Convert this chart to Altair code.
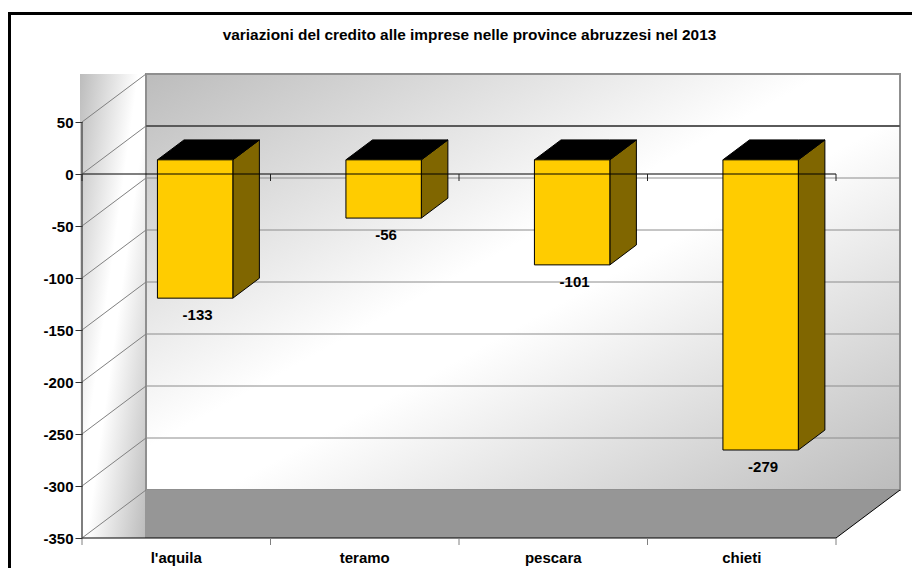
import altair as alt
import pandas as pd

categories = ["l'aquila", "teramo", "pescara", "chieti"]
values = [-133, -56, -101, -279]
y_ticks = [50, 0, -50, -100, -150, -200, -250, -300, -350]
title_text = "variazioni del credito alle imprese nelle province abruzzesi nel 2013"

W, H = 904, 560
PX_PER_CAT = 188.5
PX_PER_UNIT = 52 / 50
X_DOM = [(8 - 82) / PX_PER_CAT, (912 - 82) / PX_PER_CAT]
Y_DOM = [(174 - 568) / PX_PER_UNIT, (174 - 8) / PX_PER_UNIT]
xs = alt.Scale(domain=X_DOM, range=[0, W], nice=False, zero=False)
ys = alt.Scale(domain=Y_DOM, range=[H, 0], nice=False, zero=False)
VMAX, VMIN = 50, -350
N = len(categories)

y_axis = alt.Axis(
    values=y_ticks, orient="left", offset=-74, domain=False, grid=False, title=None,
    tickSize=7, tickColor="#333333", tickWidth=1,
    labelFont="Liberation Sans", labelFontWeight="bold", labelFontSize=15,
    labelColor="#000000", labelPadding=2, zindex=1,
    labelExpr="'' + datum.value",
)
X_ENC = alt.X("x:Q", scale=xs, axis=None)
Y_ENC = alt.Y("y:Q", scale=ys, axis=y_axis)


def proj(c, v, d):
    """category position, value, depth (0 front .. 1 back) -> oblique data coords"""
    return c + d * 64 / PX_PER_CAT, v + d * 48 / PX_PER_UNIT


def area_shape(rows, **mark):
    return alt.Chart(pd.DataFrame(rows)).mark_area(orient="vertical", **mark).encode(
        x=X_ENC, y=Y_ENC, y2="y2:Q", detail="g:N",
    )


def rule_shape(rows, **mark):
    return alt.Chart(pd.DataFrame(rows)).mark_rule(**mark).encode(
        x=X_ENC, x2="x2:Q", y=Y_ENC, y2="y2:Q",
    )


def rect_shape(rows, **mark):
    return alt.Chart(pd.DataFrame(rows)).mark_rect(**mark).encode(
        x=X_ENC, x2="x2:Q", y=Y_ENC, y2="y2:Q",
    )


def seg(p, q):
    return {"x": p[0], "y": p[1], "x2": q[0], "y2": q[1]}


def para(g, c0, c1, v, d0, d1):
    """horizontal parallelogram between c0..c1 at value v from depth d0 to d1"""
    a0 = proj(c0, v, d0)
    a1 = proj(c1, v, d0)
    b0 = proj(c0, v, d1)
    b1 = proj(c1, v, d1)
    return [
        {"g": g, "x": a0[0], "y": a0[1], "y2": a0[1]},
        {"g": g, "x": b0[0], "y": a0[1], "y2": b0[1]},
        {"g": g, "x": a1[0], "y": a1[1], "y2": b1[1]},
        {"g": g, "x": b1[0], "y": b1[1], "y2": b1[1]},
    ]


def grad(stops, x1, y1, x2, y2):
    return alt.Gradient(
        gradient="linear",
        stops=[alt.GradientStop(color=c, offset=o) for o, c in stops],
        x1=x1, y1=y1, x2=x2, y2=y2,
    )


WALL_STOPS = [(0, "#bcbcbc"), (0.45, "#ffffff"), (0.55, "#ffffff"), (1, "#bcbcbc")]

layers = []

# back wall
bw0 = proj(0, VMAX, 1)
bw1 = proj(N, VMIN, 1)
layers.append(rect_shape(
    [{"x": bw0[0], "x2": bw1[0], "y": bw0[1], "y2": bw1[1]}],
    color=grad(WALL_STOPS, 0, 0, 1, 1), stroke="#8f8f8f", strokeWidth=2,
))

# floor
layers.append(area_shape(para("floor", 0, N, VMIN, 0, 1), color="#969696"))

# side wall, over the floor's left wedge
sw = [{"x": -2 / PX_PER_CAT, "x2": bw0[0] - 1 / PX_PER_CAT, "y": bw0[1], "y2": VMIN}]
layers.append(rect_shape(sw, color=grad(WALL_STOPS, 0, 0, 1, 1)))

# gridlines on back wall + side wall
grid_back = [seg(proj(0, v, 1), proj(N, v, 1)) for v in y_ticks if v not in (0, VMAX, VMIN)]
layers.append(rule_shape(grid_back, color="#8c8c8c", strokeWidth=1))
layers.append(rule_shape([seg(proj(0, 0, 1), proj(N, 0, 1))], color="#5a5a5a", strokeWidth=2))
grid_side = [seg(proj(0, v, 0), proj(0, v, 1)) for v in y_ticks]
layers.append(rule_shape(grid_side, color="#808080", strokeWidth=1))
layers.append(rule_shape([seg(proj(N, VMIN, 0), proj(N, VMIN, 1))], color="#000000", strokeWidth=1))

# bars
D0, D1 = 0.295, 0.71
BW = 0.4
front, side, top = [], [], []
for i, v in enumerate(values):
    c0 = i + 0.5 - BW / 2
    c1 = i + 0.5 + BW / 2
    f0 = proj(c0, 0, D0)
    f1 = proj(c1, v, D0)
    b1 = proj(c1, v, D1)
    t1 = proj(c1, 0, D1)
    front.append({"x": f0[0], "x2": f1[0], "y": f0[1], "y2": f1[1]})
    side += [
        {"g": i, "x": f1[0], "y": f0[1], "y2": f1[1]},
        {"g": i, "x": b1[0], "y": t1[1], "y2": b1[1]},
    ]
    top += para(i, c0, c1, 0, D0, D1)
layers.append(area_shape(side, color="#806600", stroke="#000000", strokeWidth=1))
layers.append(area_shape(top, color="#000000", stroke="#000000", strokeWidth=1))
layers.append(rect_shape(front, color="#ffcc00", stroke="#000000", strokeWidth=1))

# value labels
bar_labels = pd.DataFrame({
    "x": [proj(i + 0.5, 0, D0)[0] for i in range(N)],
    "y": [proj(0, v, D0)[1] for v in values],
    "t": [str(v) for v in values],
})
layers.append(
    alt.Chart(bar_labels)
    .mark_text(font="Liberation Sans", fontWeight="bold", fontSize=15, color="#000000",
               baseline="middle", dx=2.5, dy=17)
    .encode(x=X_ENC, y=Y_ENC, text="t:N")
)

# front axes lines and ticks
layers.append(rule_shape([seg((0, 0), (N, 0))], color="#000000", strokeWidth=1.2))
layers.append(rule_shape([seg((0, VMIN), (N, VMIN))], color="#000000", strokeWidth=1))
layers.append(rule_shape([seg((0, VMAX), (0, VMIN))], color="#555555", strokeWidth=1.5))
tick_len = 7 / PX_PER_UNIT
layers.append(rule_shape([seg((i, 0), (i, -tick_len)) for i in range(N + 1)], color="#222222", strokeWidth=1))
layers.append(rule_shape([seg((i, VMIN), (i, VMIN - tick_len)) for i in range(N + 1)], color="#808080", strokeWidth=1))

# category labels
layers.append(
    alt.Chart(pd.DataFrame({"x": [i + 0.5 for i in range(N)], "t": categories,
                            "y": [(174 - 558) / PX_PER_UNIT] * N}))
    .mark_text(font="Liberation Sans", fontWeight="bold", fontSize=15, color="#000000", baseline="middle")
    .encode(x=X_ENC, y=Y_ENC, text="t:N")
)

# title
layers.append(
    alt.Chart(pd.DataFrame({"t": [title_text]}))
    .mark_text(font="Liberation Sans", fontWeight="bold", fontSize=15.4, color="#000000", baseline="middle")
    .encode(x=alt.value(461.5), y=alt.value(27), text="t:N")
)

# outer frame
frame = alt.Chart(pd.DataFrame({"a": [0]}))
layers.append(frame.mark_rule(color="#000000", strokeWidth=3).encode(
    x=alt.value(1.5), x2=alt.value(1.5), y=alt.value(5.5), y2=alt.value(H)))
layers.append(frame.mark_rule(color="#000000", strokeWidth=3).encode(
    x=alt.value(0), x2=alt.value(W), y=alt.value(5.5), y2=alt.value(5.5)))

chart = alt.layer(*layers).properties(
    width=W, height=H, padding=0,
    autosize=alt.AutoSizeParams(type="none"),
    background="#ffffff",
).configure_view(stroke=None)

chart.save("out.html", embed_options={"renderer": "svg", "actions": False})
